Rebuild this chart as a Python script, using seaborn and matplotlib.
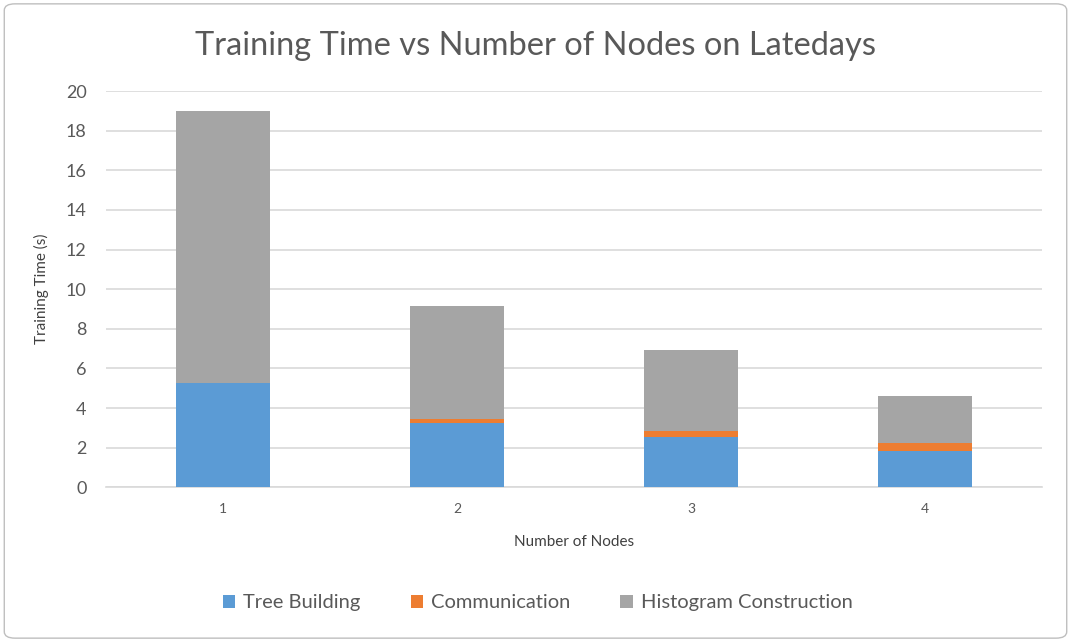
import matplotlib
matplotlib.use("Agg")
import matplotlib.pyplot as plt
from matplotlib.patches import FancyBboxPatch
import seaborn as sns
import pandas as pd
import numpy as np

# values
nodes = ["1", "2", "3", "4"]
tree_building = [5.25, 3.25, 2.55, 1.83]
communication = [0.0, 0.18, 0.30, 0.41]
histogram = [13.75, 5.74, 4.09, 2.39]

series = ["Tree Building", "Communication", "Histogram Construction"]
colors = ["#5B9BD5", "#ED7D31", "#A5A5A5"]

sns.set_style("white")
plt.rcParams["font.family"] = ["Lato", "DejaVu Sans"]

fig = plt.figure(figsize=(10.71, 6.42), dpi=100)
ax = fig.add_axes([0.099, 0.241, 0.874, 0.617])

df = pd.DataFrame({"nodes": nodes, "Tree Building": tree_building,
                   "Communication": communication, "Histogram Construction": histogram})

bottom = np.zeros(len(nodes))
for name, col in zip(series, colors):
    sns.barplot(data=df, x="nodes", y=name, color=col, width=0.4, bottom=bottom,
                ax=ax, label=name, saturation=1, edgecolor="none", zorder=3)
    bottom = bottom + df[name].to_numpy()

handles, labels = ax.get_legend_handles_labels()
if ax.get_legend() is not None:
    ax.get_legend().remove()

ax.set_ylim(0, 20)
ax.set_yticks(range(0, 21, 2))
ax.set_xlim(-0.5, 3.5)
ax.yaxis.grid(True, color="#d9d9d9", linewidth=1.2, zorder=0)
ax.xaxis.grid(False)
for s in ["top", "right", "left"]:
    ax.spines[s].set_visible(False)
ax.spines["bottom"].set_color("#d9d9d9")
ax.spines["bottom"].set_linewidth(1.2)
ax.tick_params(axis="both", length=0, colors="#595959")
ax.tick_params(axis="y", labelsize=13, pad=14)
ax.tick_params(axis="x", labelsize=10, pad=11)

ax.set_xlabel("Number of Nodes", fontsize=11, color="#404040", labelpad=15)
ax.set_ylabel("Training Time (s)", fontsize=11, color="#404040", labelpad=12)
fig.text(0.5, 0.928, "Training Time vs Number of Nodes on Latedays", ha="center",
         va="center", fontsize=23.5, color="#595959")

fig.legend(handles, labels, loc="center", bbox_to_anchor=(0.502, 0.061), ncol=3,
           frameon=False, fontsize=14.5, handlelength=0.6, handleheight=0.6,
           handletextpad=0.4, columnspacing=2.5, labelcolor="#595959")

border = FancyBboxPatch((0.004, 0.006), 0.992, 0.988, boxstyle="round,pad=0,rounding_size=0.01",
                        transform=fig.transFigure, fill=False, edgecolor="#bfbfbf", linewidth=1)
fig.patches.append(border)

fig.savefig("out.png", dpi=100)
